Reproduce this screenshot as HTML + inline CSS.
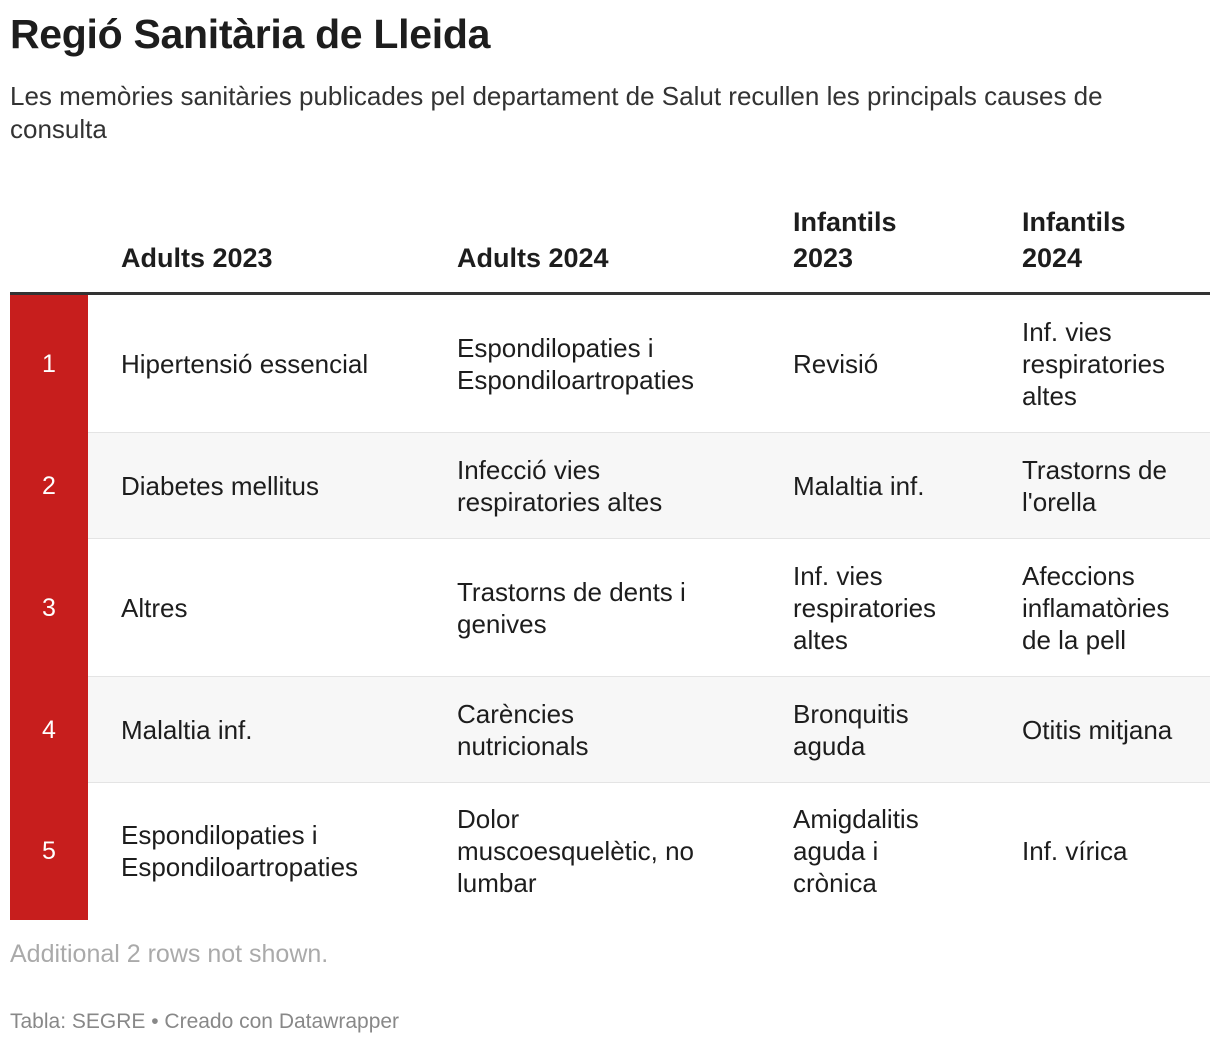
<!DOCTYPE html>
<html><head><meta charset="utf-8"><style>
body{margin:0;width:1220px;height:1046px;background:#fff;font-family:"Liberation Sans",sans-serif;color:#1d1d1d;position:relative;overflow:hidden}
.abs{position:absolute}
h1{position:absolute;left:10px;top:11px;margin:0;font-size:41px;font-weight:bold;letter-spacing:-0.3px}
.sub{left:10px;top:80px;width:1195px;font-size:26px;line-height:33px;color:#333}
.hdr{font-size:27px;font-weight:bold;line-height:36px;bottom:0}
.row{position:absolute;left:10px;width:1200px;border-bottom:1px solid #e4e4e4}
.num{position:absolute;left:0;top:0;bottom:-1px;width:78px;background:#c71e1d;color:#fff;font-size:25px;display:flex;align-items:center;justify-content:center}
.cell{position:absolute;top:0;bottom:0;display:flex;align-items:center;font-size:26px;line-height:32px}
</style></head><body>
<h1>Regió Sanitària de Lleida</h1>
<div class="abs sub">Les memòries sanitàries publicades pel departament de Salut recullen les principals causes de<br>consulta</div>
<div class="abs" style="left:0;top:190px;width:1220px;height:86px">
<div class="abs hdr" style="left:121px">Adults 2023</div>
<div class="abs hdr" style="left:457px">Adults 2024</div>
<div class="abs hdr" style="left:793px">Infantils<br>2023</div>
<div class="abs hdr" style="left:1022px">Infantils<br>2024</div>
</div>
<div class="abs" style="left:10px;top:292px;width:1200px;height:3px;background:#333"></div>
<div id="rows"></div>
<div class="abs" style="left:10px;top:940px;font-size:25px;color:#aaa">Additional 2 rows not shown.</div>
<div class="abs" style="left:10px;top:1010px;font-size:21px;color:#888">Tabla: SEGRE • Creado con Datawrapper</div>
<script>
const rows=[
["Hipertensió essencial","Espondilopaties i<br>Espondiloartropaties","Revisió","Inf. vies<br>respiratories<br>altes"],
["Diabetes mellitus","Infecció vies<br>respiratories altes","Malaltia inf.","Trastorns de<br>l'orella"],
["Altres","Trastorns de dents i<br>genives","Inf. vies<br>respiratories<br>altes","Afeccions<br>inflamatòries<br>de la pell"],
["Malaltia inf.","Carències<br>nutricionals","Bronquitis<br>aguda","Otitis mitjana"],
["Espondilopaties i<br>Espondiloartropaties","Dolor<br>muscoesquelètic, no<br>lumbar","Amigdalitis<br>aguda i<br>crònica","Inf. vírica"]];
const tops=[295,433,539,677,783], hs=[137,105,137,105,136];
const lefts=[111,447,783,1012];
const c=document.getElementById('rows');
rows.forEach((r,i)=>{
 const d=document.createElement('div');d.className='row';
 
 
 d.style.top=tops[i]+'px';d.style.height=hs[i]+'px';
 if(i%2==1)d.style.background='#f7f7f7';
 if(i==4)d.style.borderBottom='none';
 const n=document.createElement('div');n.className='num';n.textContent=i+1;
 
 
 d.appendChild(n);
 r.forEach((t,j)=>{const e=document.createElement('div');e.className='cell';e.innerHTML='<span>'+t+'</span>';e.style.left=lefts[j]+'px';
 
 
 d.appendChild(e);});
 c.appendChild(d);
});
</script>
</body></html>
